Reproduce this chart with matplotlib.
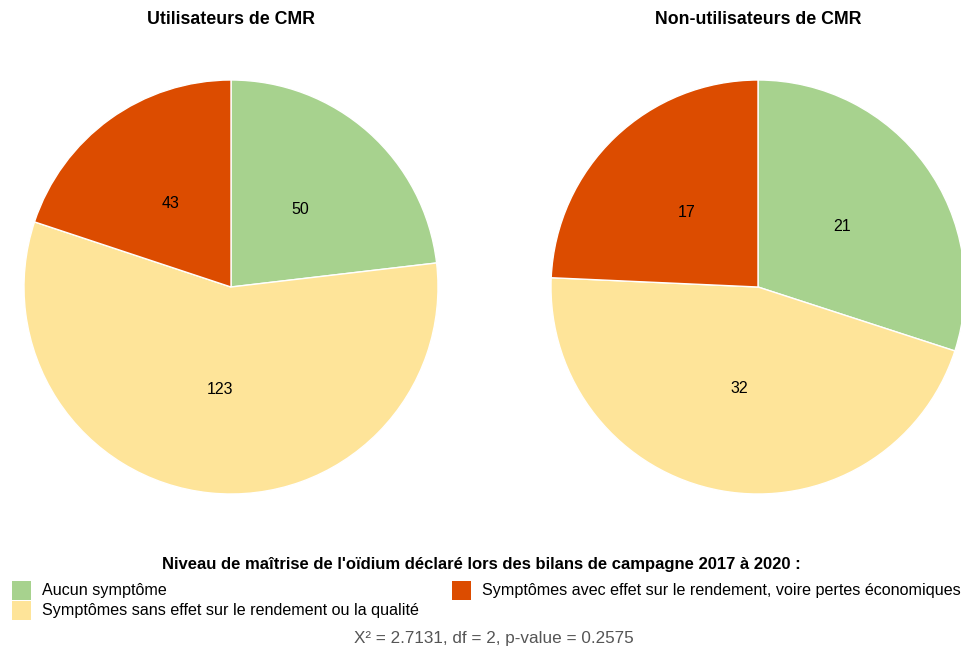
import matplotlib
matplotlib.use("Agg")
import matplotlib.pyplot as plt

plt.rcParams['font.family'] = ['Liberation Sans', 'DejaVu Sans']

categories = [
    "Aucun symptôme",
    "Symptômes sans effet sur le rendement ou la qualité",
    "Symptômes avec effet sur le rendement, voire pertes économiques",
]
colors = ["#a7d28e", "#fee499", "#dc4c00"]
groups = ["Utilisateurs de CMR", "Non-utilisateurs de CMR"]
users = [50, 123, 43]
non_users = [21, 32, 17]
legend_title = "Niveau de maîtrise de l'oïdium déclaré lors des bilans de campagne 2017 à 2020 :"
caption = "X² = 2.7131, df = 2, p-value = 0.2575"

W, H = 962, 650
fig = plt.figure(figsize=(W / 100, H / 100), dpi=100)

R = 207
centers = [(231, 287), (758, 287)]


def make_autopct(vals):
    total = sum(vals)
    def fmt(p):
        return f"{int(round(p * total / 100))}"
    return fmt


for (cx, cy), title, vals in zip(centers, groups, [users, non_users]):
    ax = fig.add_axes([(cx - R) / W, (H - cy - R) / H, 2 * R / W, 2 * R / H])
    ax.pie(vals, colors=colors, startangle=90, counterclock=False, radius=1,
           autopct=make_autopct(vals), pctdistance=0.5,
           wedgeprops=dict(edgecolor="white", linewidth=1),
           textprops=dict(fontsize=11.5, color="black"))
    ax.set_xlim(-1, 1)
    ax.set_ylim(-1, 1)
    ax.set_aspect("equal")
    ax.axis("off")
    fig.text(cx / W, 1 - 20 / H, title, ha="center", va="center",
             fontsize=12.8, fontweight="bold")

# Legend title and entries
fig.text(481 / W, 1 - 565 / H, legend_title, ha="center", va="center",
         fontsize=12, fontweight="bold")

entries = [(12, 591, 0), (12, 611, 1), (452, 591, 2)]
for x, y, i in entries:
    fig.add_artist(plt.Rectangle((x / W, 1 - (y + 9) / H), 19 / W, 19 / H,
                                 transform=fig.transFigure,
                                 facecolor=colors[i], edgecolor="none"))
    fig.text((x + 30) / W, 1 - y / H, categories[i], ha="left", va="center",
             fontsize=11.6)

fig.text(494 / W, 1 - 638 / H, caption, ha="center", va="center",
         fontsize=12.3, color="#555555")

fig.savefig("out.png", dpi=100, facecolor="white")
